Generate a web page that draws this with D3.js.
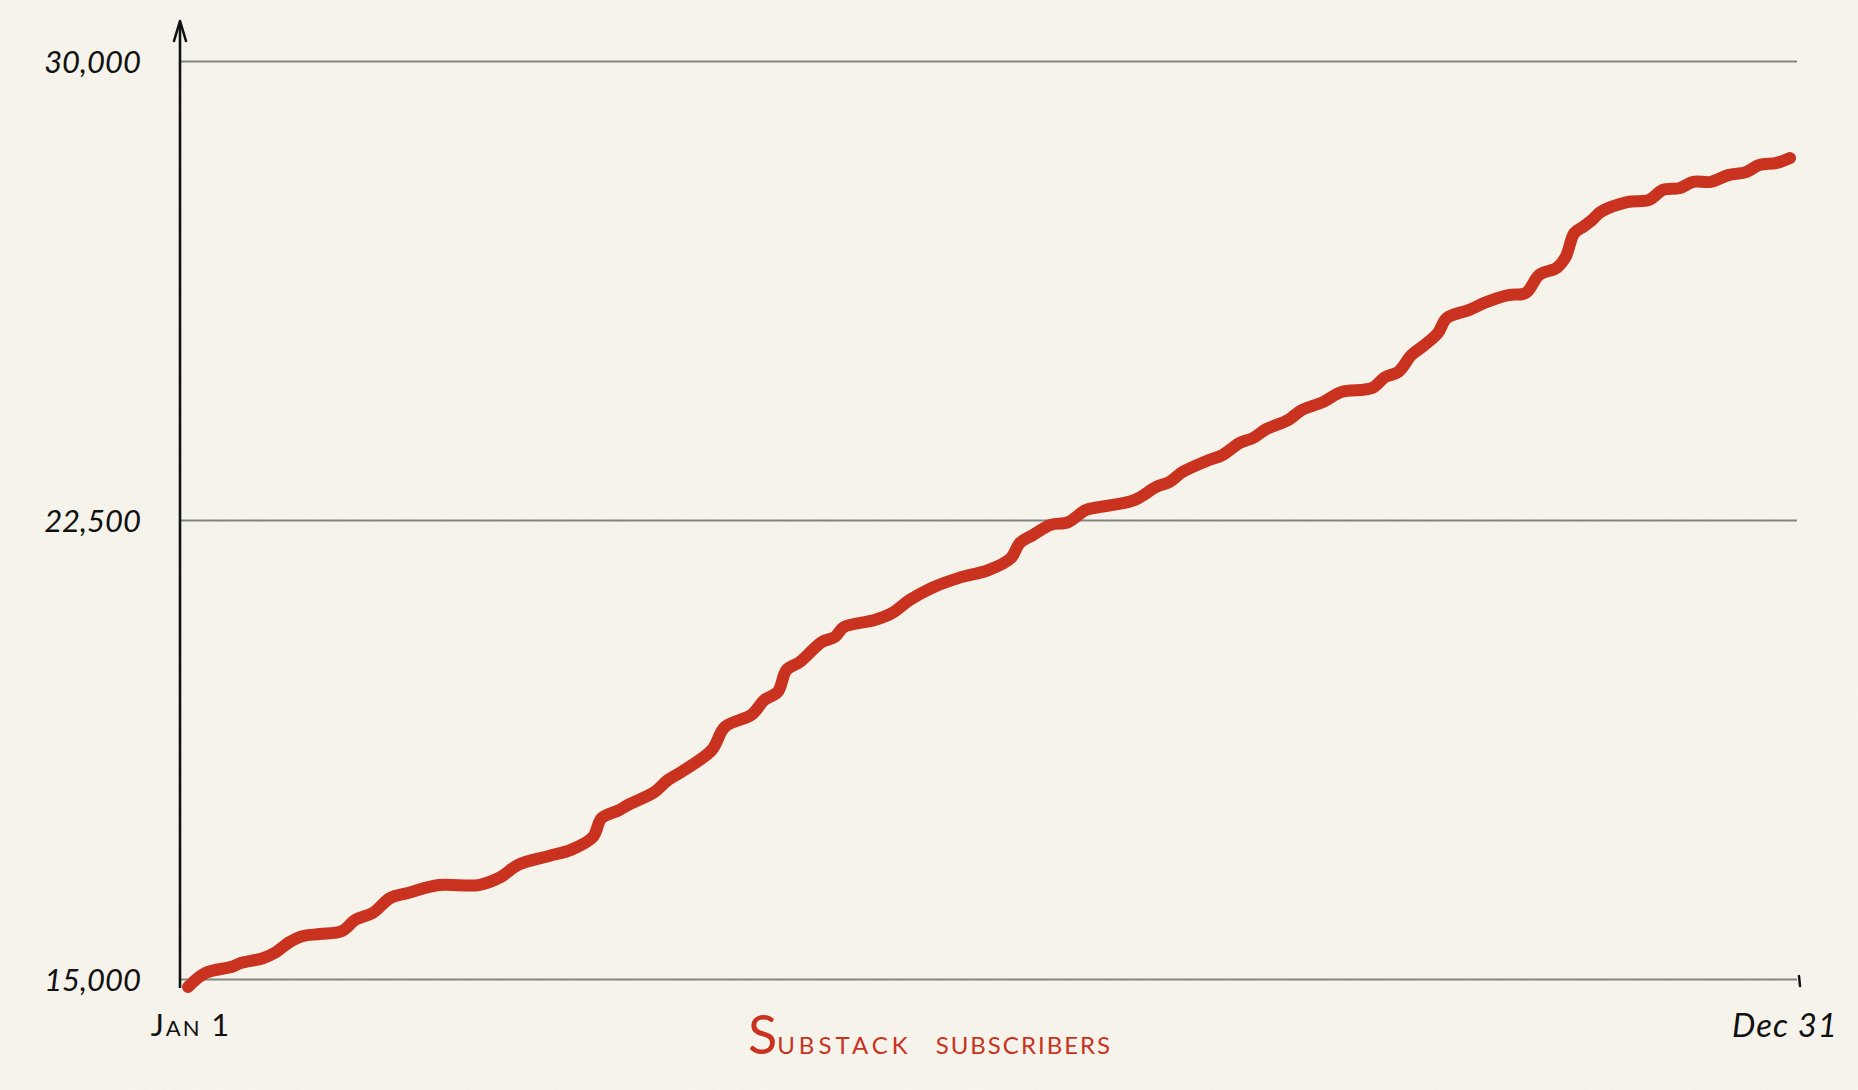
<!DOCTYPE html>
<html>
<head>
<meta charset="utf-8">
<script src="https://cdn.jsdelivr.net/npm/d3@7"></script>
<style>
  html, body { margin: 0; padding: 0; background: #f5f2e9; }
  svg { display: block; }
</style>
</head>
<body>
<script>
// ---- Data (day of year, subscribers) ----
const days = [0,4,10,12,17,20,23,26,30,35,38,42,46,50,57,66,71,75,82,87,92,94,98,100,106,109,112,119,122,128,131,134,136,139,144,147,149,156,160,164,169,175,182,187,189,192,196,200,204,207,215,220,223,226,232,235,239,242,245,250,253,258,262,269,272,275,278,281,284,286,291,295,300,304,307,311,313,315,317,319,321,327,332,335,339,342,346,350,354,357,361,364];
const subscribers = [14870,15100,15200,15260,15340,15440,15600,15700,15735,15785,15965,16080,16325,16405,16535,16535,16665,16865,17010,17110,17320,17630,17760,17845,18055,18250,18380,18740,19120,19315,19560,19690,20050,20180,20505,20590,20750,20865,20980,21195,21390,21550,21685,21880,22125,22255,22420,22465,22665,22710,22825,23040,23120,23285,23480,23560,23760,23840,23985,24135,24295,24430,24590,24655,24835,24920,25195,25360,25555,25800,25930,26060,26175,26210,26505,26620,26795,27190,27290,27400,27535,27695,27730,27890,27925,28025,28025,28135,28185,28300,28335,28415];
const yTicks = [15000, 22500, 30000];
const xTickLabels = ["Jan 1", "Dec 31"];
const title = "Substack subscribers";

const W = 1858, H = 1090;
const svg = d3.select("body").append("svg").attr("width", W).attr("height", H);

// paper background + texture
const defs = svg.append("defs");
const f = defs.append("filter").attr("id", "paper").attr("x", 0).attr("y", 0).attr("width", "100%").attr("height", "100%");
f.append("feTurbulence").attr("type", "fractalNoise").attr("baseFrequency", "0.9 0.35").attr("numOctaves", 3).attr("seed", 4).attr("result", "n");
f.append("feColorMatrix").attr("in", "n").attr("type", "matrix")
  .attr("values", "0 0 0 0 0.82  0 0 0 0 0.78  0 0 0 0 0.68  0 0 0 -1.3 0.9");
svg.append("rect").attr("width", W).attr("height", H).attr("fill", "#f6f4ec");
svg.append("rect").attr("width", W).attr("height", H).attr("filter", "url(#paper)").attr("opacity", 0.25);

const x = d3.scaleLinear().domain([0, 364]).range([188, 1790]);
const y = d3.scaleLinear().domain([15000, 30000]).range([979, 61]);
const axisX = 180, gridEnd = 1797;

// gridlines + labels via axis
const yAxis = d3.axisLeft(y).tickValues(yTicks).tickFormat(d3.format(",")).tickSize(0).tickPadding(39);
const gy = svg.append("g").attr("transform", `translate(${axisX},0)`).call(yAxis);
gy.select(".domain").remove();
gy.selectAll(".tick").append("line")
  .attr("x1", 1).attr("x2", gridEnd - axisX)
  .attr("stroke", "#838380").attr("stroke-width", 2.2);
gy.selectAll(".tick text")
  .attr("font-family", "Lato, 'Open Sans', sans-serif")
  .attr("font-style", "italic")
  .attr("font-size", 31)
  .attr("fill", "#111")
  .attr("dy", "0.36em");

// right end tick on the baseline
svg.append("line").attr("x1", 1799).attr("x2", 1800).attr("y1", y(15000) - 3).attr("y2", y(15000) + 7)
  .attr("stroke", "#111").attr("stroke-width", 2.5).attr("stroke-linecap", "round");

// y axis with arrow
svg.append("line").attr("x1", axisX).attr("x2", axisX).attr("y1", 988).attr("y2", 22)
  .attr("stroke", "#111").attr("stroke-width", 2.6);
svg.append("path").attr("d", `M${axisX - 6},41 L${axisX},21 L${axisX + 6},41`)
  .attr("fill", "none").attr("stroke", "#111").attr("stroke-width", 2.6)
  .attr("stroke-linecap", "round").attr("stroke-linejoin", "round");

// x labels
const xl = svg.append("g").attr("font-family", "Lato, 'Open Sans', sans-serif").attr("fill", "#111");
xl.append("text").attr("x", 191).attr("y", 1036).attr("text-anchor", "middle")
  .attr("font-size", 31).style("font-variant", "small-caps").attr("letter-spacing", 2).text(xTickLabels[0]);
xl.append("text").attr("x", 1732).attr("y", 1037).attr("text-anchor", "start")
  .attr("font-size", 33).attr("font-style", "italic").attr("letter-spacing", 1).text(xTickLabels[1]);

// line
const pts = days.map((d, i) => [d, subscribers[i]]);
const line = d3.line().x(d => x(d[0])).y(d => y(d[1])).curve(d3.curveCatmullRom.alpha(0.5));
svg.append("path").attr("d", line(pts))
  .attr("fill", "none").attr("stroke", "#c8321f").attr("stroke-width", 12)
  .attr("stroke-linecap", "round").attr("stroke-linejoin", "round");

// title
const words = title.split(" ");
const t = svg.append("text").attr("x", 930).attr("y", 1054).attr("text-anchor", "middle")
  .attr("font-family", "Lato, 'Open Sans', sans-serif").attr("fill", "#c8321f").attr("font-weight", 400);
t.append("tspan").attr("font-size", 54).text(words[0][0]);
t.append("tspan").attr("font-size", 24).attr("letter-spacing", 4).text(words[0].slice(1).toUpperCase());
t.append("tspan").attr("font-size", 24).attr("dx", 24).attr("letter-spacing", 2).text(words[1].toUpperCase());
</script>
</body>
</html>
